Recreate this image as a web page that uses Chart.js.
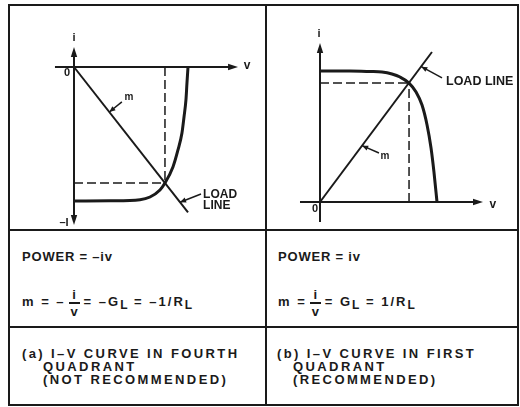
<!DOCTYPE html>
<html>
<head>
<meta charset="utf-8">
<script src="https://cdn.jsdelivr.net/npm/chart.js@4/dist/chart.umd.min.js"></script>
<style>
  html, body { margin: 0; padding: 0; background: #fff; }
  #fig { position: relative; width: 520px; height: 407px; overflow: hidden;
         font-family: "Liberation Sans", Arial, sans-serif; font-weight: bold; color: #1a1a1a; }
  .rule { position: absolute; background: #1a1a1a; }
  canvas { position: absolute; }
  .txt { position: absolute; font-size: 13px; line-height: 14px; white-space: pre; }
  .power { letter-spacing: 0.8px; }
  .cap { letter-spacing: 2.4px; line-height: 13px; }
  .eq { letter-spacing: 2px; }
  .frac { display: inline-block; vertical-align: middle; text-align: center; margin: 0 4px 0 3px; }
  .frac span { display: block; line-height: 15px; letter-spacing: 0; }
  .frac .bar { width: 11px; height: 1.6px; background: #1a1a1a; margin: 0 auto; }
  .sub { position: relative; top: 3px; font-size: 12px; letter-spacing: 1px; }
</style>
</head>
<body>
<div id="fig">
  <!-- table frame -->
  <div class="rule" style="left:8px; top:4px; width:511px; height:2px"></div>
  <div class="rule" style="left:8px; top:404px; width:511px; height:2px"></div>
  <div class="rule" style="left:8px; top:4px; width:2px; height:402px"></div>
  <div class="rule" style="left:517px; top:4px; width:2px; height:402px"></div>
  <div class="rule" style="left:265px; top:4px; width:2px; height:402px"></div>
  <div class="rule" style="left:8px; top:229px; width:511px; height:2px"></div>
  <div class="rule" style="left:8px; top:326px; width:511px; height:2px"></div>

  <canvas id="cA" width="255" height="223" style="left:10px; top:6px"></canvas>
  <canvas id="cB" width="250" height="223" style="left:267px; top:6px"></canvas>

  <div class="txt power" style="left:22px; top:250px">POWER = –iv</div>
  <div class="txt power" style="left:278px; top:250px">POWER = iv</div>

  <div class="txt eq" style="left:22px; top:287px">m = –<span class="frac"><span>i</span><span class="bar"></span><span>v</span></span>= –G<span class="sub">L</span> = –1/R<span class="sub">L</span></div>
  <div class="txt eq" style="left:278px; top:287px">m =<span class="frac"><span>i</span><span class="bar"></span><span>v</span></span>= G<span class="sub">L</span> = 1/R<span class="sub">L</span></div>

  <div class="txt cap" style="left:22px; top:347px">(a) I–V CURVE IN FOURTH</div>
  <div class="txt cap" style="left:43px; top:360px">QUADRANT</div>
  <div class="txt cap" style="left:43px; top:373px">(NOT RECOMMENDED)</div>
  <div class="txt cap" style="left:277px; top:347px">(b) I–V CURVE IN FIRST</div>
  <div class="txt cap" style="left:293px; top:360px">QUADRANT</div>
  <div class="txt cap" style="left:293px; top:373px">(RECOMMENDED)</div>
</div>

<script>
const INK = '#1a1a1a';

// (a) characteristic in the fourth quadrant: v / Voc against i / Isc
const curveA_v = [0, 0.316, 0.579, 0.667, 0.754, 0.798, 0.868, 0.912, 0.947, 0.965, 0.982, 0.991, 1.0];
const curveA_i = [-1.0, -0.998, -0.99, -0.97, -0.918, -0.866, -0.746, -0.619, -0.493, -0.373, -0.246, -0.119, 0];
const pointA   = [0.798, -0.866];   // operating point where the load line crosses the curve
const loadEndA = [1.0, -1.085];     // far end of the load line

// (b) characteristic in the first quadrant
const curveB_v = [0, 0.256, 0.427, 0.530, 0.615, 0.684, 0.761, 0.821, 0.872, 0.915, 0.949, 0.974, 1.0];
const curveB_i = [1.0, 1.0, 0.996, 0.992, 0.977, 0.954, 0.908, 0.840, 0.740, 0.588, 0.412, 0.229, 0];
const pointB   = [0.761, 0.908];
const loadEndB = [0.957, 1.145];

const seg = (a, b) => [{x: a[0], y: a[1]}, {x: b[0], y: b[1]}];
const zip = (vs, is) => vs.map((v, k) => ({x: v, y: is[k]}));

// filled arrowheads and small text, placed in data coordinates
const annotate = {
  id: 'annotate',
  afterDatasetsDraw(chart, args, opts) {
    const {ctx, scales: {x, y}} = chart;
    const P = p => [x.getPixelForValue(p[0]), y.getPixelForValue(p[1])];
    ctx.save();
    ctx.fillStyle = INK;
    for (const a of opts.heads) {
      const [x0, y0] = P(a.from), [x1, y1] = P(a.to);
      const ang = Math.atan2(y1 - y0, x1 - x0);
      ctx.beginPath();
      ctx.moveTo(x1, y1);
      ctx.lineTo(x1 - a.len * Math.cos(ang) + a.half * Math.sin(ang), y1 - a.len * Math.sin(ang) - a.half * Math.cos(ang));
      ctx.lineTo(x1 - a.len * Math.cos(ang) - a.half * Math.sin(ang), y1 - a.len * Math.sin(ang) + a.half * Math.cos(ang));
      ctx.closePath();
      ctx.fill();
    }
    ctx.textBaseline = 'middle';
    for (const t of opts.labels) {
      const [px, py] = P(t.at);
      ctx.font = 'bold ' + t.size + 'px "Liberation Sans", Arial, sans-serif';
      ctx.textAlign = t.align || 'center';
      ctx.fillText(t.text, px, py);
    }
    ctx.restore();
  }
};

function drawPanel(p) {
  // scale limits so that (0,0) lands on p.origin and one unit spans p.unit pixels
  const xMin = (p.box.left - p.origin.x) / p.unit.x;
  const xMax = (p.box.left + p.box.width - p.origin.x) / p.unit.x;
  const yMax = (p.origin.y - p.box.top) / p.unit.y;
  const yMin = (p.origin.y - p.box.top - p.box.height) / p.unit.y;
  const line = (data, width, extra) => Object.assign({
    data, showLine: true, borderColor: INK, borderWidth: width,
    pointRadius: 0, fill: false, clip: false
  }, extra || {});
  const dash = {borderDash: [9, 4]};
  const datasets = [
    line(seg([p.vAxis[0], 0], [p.vAxis[1], 0]), 2),
    line(seg([0, p.iAxis[0]], [0, p.iAxis[1]]), 2),
    line(seg([p.point[0], 0], p.point), 1.5, dash),
    line(seg([0, p.point[1]], p.point), 1.5, dash),
    line(seg([0, 0], p.loadEnd), 2),
    line(zip(p.curve.v, p.curve.i), 3, {cubicInterpolationMode: 'monotone'}),
    ...p.pointers.map(q => line(seg(q.from, q.to), 1.5))
  ];
  const heads = p.axisHeads.map(h => ({from: h.from, to: h.to, len: 10, half: 3.2}))
    .concat(p.pointers.map(q => ({from: q.from, to: q.to, len: 6, half: 2.6})));
  new Chart(document.getElementById(p.canvas), {
    type: 'scatter',
    data: {datasets},
    options: {
      responsive: false, animation: false, events: [],
      layout: {padding: 0},
      scales: {
        x: {type: 'linear', display: false, min: xMin, max: xMax},
        y: {type: 'linear', display: false, min: yMin, max: yMax}
      },
      plugins: {
        legend: {display: false}, tooltip: {enabled: false},
        annotate: {heads, labels: p.labels}
      }
    },
    plugins: [annotate]
  });
}

drawPanel({
  canvas: 'cA',
  box: {left: 10, top: 6, width: 255, height: 223},
  origin: {x: 74, y: 67}, unit: {x: 114, y: 134},
  curve: {v: curveA_v, i: curveA_i}, point: pointA, loadEnd: loadEndA,
  vAxis: [-0.167, 1.40], iAxis: [-1.15, 0.12],
  axisHeads: [
    {from: [1.2, 0], to: [1.439, 0]},
    {from: [0, 0], to: [0, 0.149]},
    {from: [0, -1], to: [0, -1.179]}
  ],
  pointers: [
    {from: [0.42, -0.26], to: [0.31, -0.336]},
    {from: [1.114, -0.948], to: [0.93, -1.009]}
  ],
  labels: [
    {text: 'i', at: [0, 0.216], size: 11},
    {text: 'v', at: [1.518, 0.01], size: 12},
    {text: '0', at: [-0.061, -0.045], size: 11},
    {text: '–I', at: [-0.088, -1.164], size: 11},
    {text: 'm', at: [0.482, -0.224], size: 10},
    {text: 'LOAD', at: [1.132, -0.955], size: 12, align: 'left'},
    {text: 'LINE', at: [1.132, -1.037], size: 12, align: 'left'}
  ]
});

drawPanel({
  canvas: 'cB',
  box: {left: 267, top: 6, width: 250, height: 223},
  origin: {x: 320, y: 202}, unit: {x: 117, y: 131},
  curve: {v: curveB_v, i: curveB_i}, point: pointB, loadEnd: loadEndB,
  vAxis: [-0.171, 1.36], iAxis: [-0.153, 1.19],
  axisHeads: [
    {from: [1.2, 0], to: [1.393, 0]},
    {from: [0, 1], to: [0, 1.214]}
  ],
  pointers: [
    {from: [0.504, 0.374], to: [0.36, 0.43]},
    {from: [1.043, 0.947], to: [0.866, 1.033]}
  ],
  labels: [
    {text: 'i', at: [-0.009, 1.282], size: 11},
    {text: 'v', at: [1.477, -0.023], size: 12},
    {text: '0', at: [-0.043, -0.053], size: 11},
    {text: 'm', at: [0.556, 0.351], size: 10},
    {text: 'LOAD LINE', at: [1.077, 0.916], size: 12.5, align: 'left'}
  ]
});
</script>
</body>
</html>
